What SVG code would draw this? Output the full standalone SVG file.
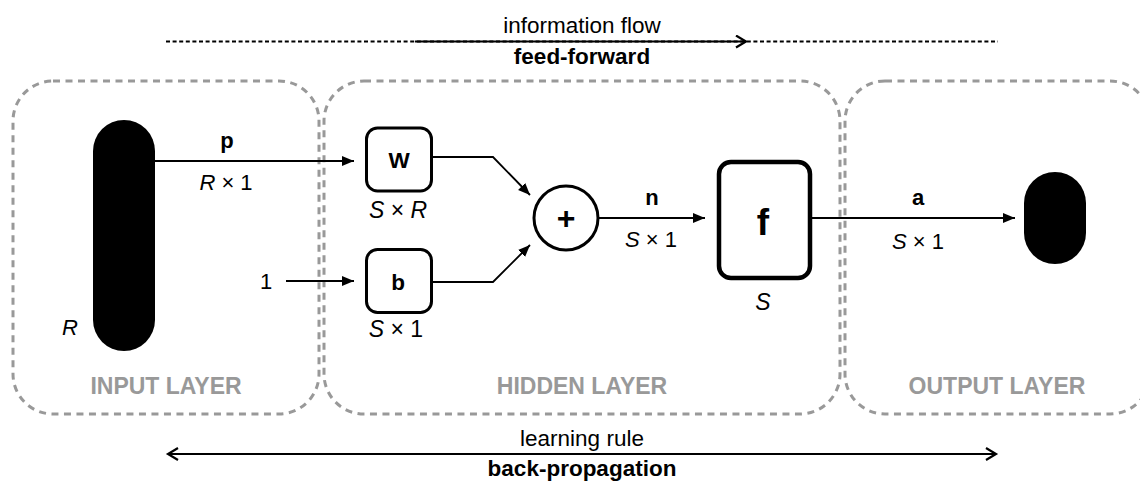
<svg xmlns="http://www.w3.org/2000/svg" width="1140" height="481" viewBox="0 0 1140 481">
<defs>
<style>
.t{font-family:"Liberation Sans",Arial,sans-serif;fill:#000;text-anchor:middle}
.b{font-weight:bold}
.i{font-style:italic}
.layer{fill:none;stroke:#999;stroke-width:3;stroke-dasharray:7 5.5}
.lt{font-family:"Liberation Sans",Arial,sans-serif;font-weight:bold;font-size:23px;fill:#999;text-anchor:middle}
.box{fill:#fff;stroke:#000;stroke-width:3}
.con{fill:none;stroke:#000;stroke-width:1.8}
</style>
<marker id="ah" markerUnits="userSpaceOnUse" markerWidth="14" markerHeight="12" refX="12" refY="5" orient="auto">
<path d="M0,0 L12,5 L0,10 z" fill="#000"/>
</marker>
<marker id="ch" markerUnits="userSpaceOnUse" markerWidth="14" markerHeight="16" refX="11" refY="7" orient="auto-start-reverse">
<path d="M1,1 L11,7 L1,13" fill="none" stroke="#000" stroke-width="2.2"/>
</marker>
</defs>
<rect width="1140" height="481" fill="#fff"/>

<g id="input-layer">
<rect class="layer" x="13" y="81" width="306" height="333" rx="40"/>
<text class="lt" x="166" y="394">INPUT LAYER</text>
</g>
<g id="hidden-layer">
<rect class="layer" x="324" y="81" width="516" height="333" rx="40"/>
<text class="lt" x="582" y="394">HIDDEN LAYER</text>
</g>
<g id="output-layer">
<rect class="layer" x="845" y="81" width="305" height="333" rx="40"/>
<text class="lt" x="997" y="394">OUTPUT LAYER</text>
</g>

<g id="info-flow">
<line x1="166" y1="41.5" x2="998" y2="41.5" stroke="#000" stroke-width="2" stroke-dasharray="4 2.6"/>
<line x1="415" y1="41.5" x2="746" y2="41.5" stroke="#000" stroke-width="2.2" marker-end="url(#ch)"/>
<text class="t" x="582" y="33" font-size="22.5">information flow</text>
<text class="t b" x="582" y="64" font-size="22.5">feed-forward</text>
</g>

<g id="learning-rule">
<line x1="168" y1="454" x2="996" y2="454" stroke="#000" stroke-width="2.2" marker-start="url(#ch)" marker-end="url(#ch)"/>
<text class="t" x="582" y="446" font-size="22.5">learning rule</text>
<text class="t b" x="582" y="476" font-size="22.5">back-propagation</text>
</g>

<g id="input-node">
<rect x="93" y="120" width="62" height="231" rx="31" fill="#000"/>
<text class="t i" x="70" y="335" font-size="22">R</text>
</g>

<g id="weight-node">
<rect class="box" x="366.5" y="128" width="65" height="63" rx="11"/>
<text class="t b" x="399" y="168" font-size="22.5">W</text>
<text class="t" x="398" y="218" font-size="23"><tspan class="i">S</tspan> × <tspan class="i">R</tspan></text>
</g>

<g id="bias-node">
<rect class="box" x="366.5" y="249.5" width="65" height="63" rx="11"/>
<text class="t b" x="398" y="290" font-size="22.5">b</text>
<text class="t" x="396" y="337" font-size="23"><tspan class="i">S</tspan> × 1</text>
</g>

<g id="sum-node">
<circle cx="566" cy="218" r="32" fill="#fff" stroke="#000" stroke-width="3"/>
<text class="t b" x="566" y="229" font-size="32">+</text>
</g>

<g id="transfer-node">
<rect x="719" y="162" width="91" height="116" rx="12" fill="#fff" stroke="#000" stroke-width="4.5"/>
<text class="t b" x="763" y="235" font-size="37">f</text>
<text class="t i" x="763" y="310" font-size="23">S</text>
</g>

<g id="output-node">
<rect x="1024" y="172" width="62" height="92" rx="31" fill="#000"/>
</g>

<g id="one-label">
<text class="t" x="266" y="289" font-size="22">1</text>
</g>

<g id="connectors">
<line class="con" x1="155" y1="161" x2="354" y2="161" marker-end="url(#ah)"/>
<line class="con" x1="286" y1="281" x2="354" y2="281" marker-end="url(#ah)"/>
<polyline class="con" points="431,157 493,157 530,195" marker-end="url(#ah)"/>
<polyline class="con" points="431,282 493,282 530,245" marker-end="url(#ah)"/>
<line class="con" x1="598" y1="218" x2="705" y2="218" marker-end="url(#ah)"/>
<line class="con" x1="812" y1="218" x2="1015" y2="218" marker-end="url(#ah)"/>
</g>

<g id="connector-labels">
<text class="t b" x="227" y="148" font-size="22">p</text>
<text class="t" x="226" y="190" font-size="22"><tspan class="i">R</tspan> × 1</text>
<text class="t b" x="652" y="205" font-size="22">n</text>
<text class="t" x="651" y="247" font-size="22"><tspan class="i">S</tspan> × 1</text>
<text class="t b" x="918" y="205" font-size="22">a</text>
<text class="t" x="918" y="249" font-size="22"><tspan class="i">S</tspan> × 1</text>
</g>
</svg>
